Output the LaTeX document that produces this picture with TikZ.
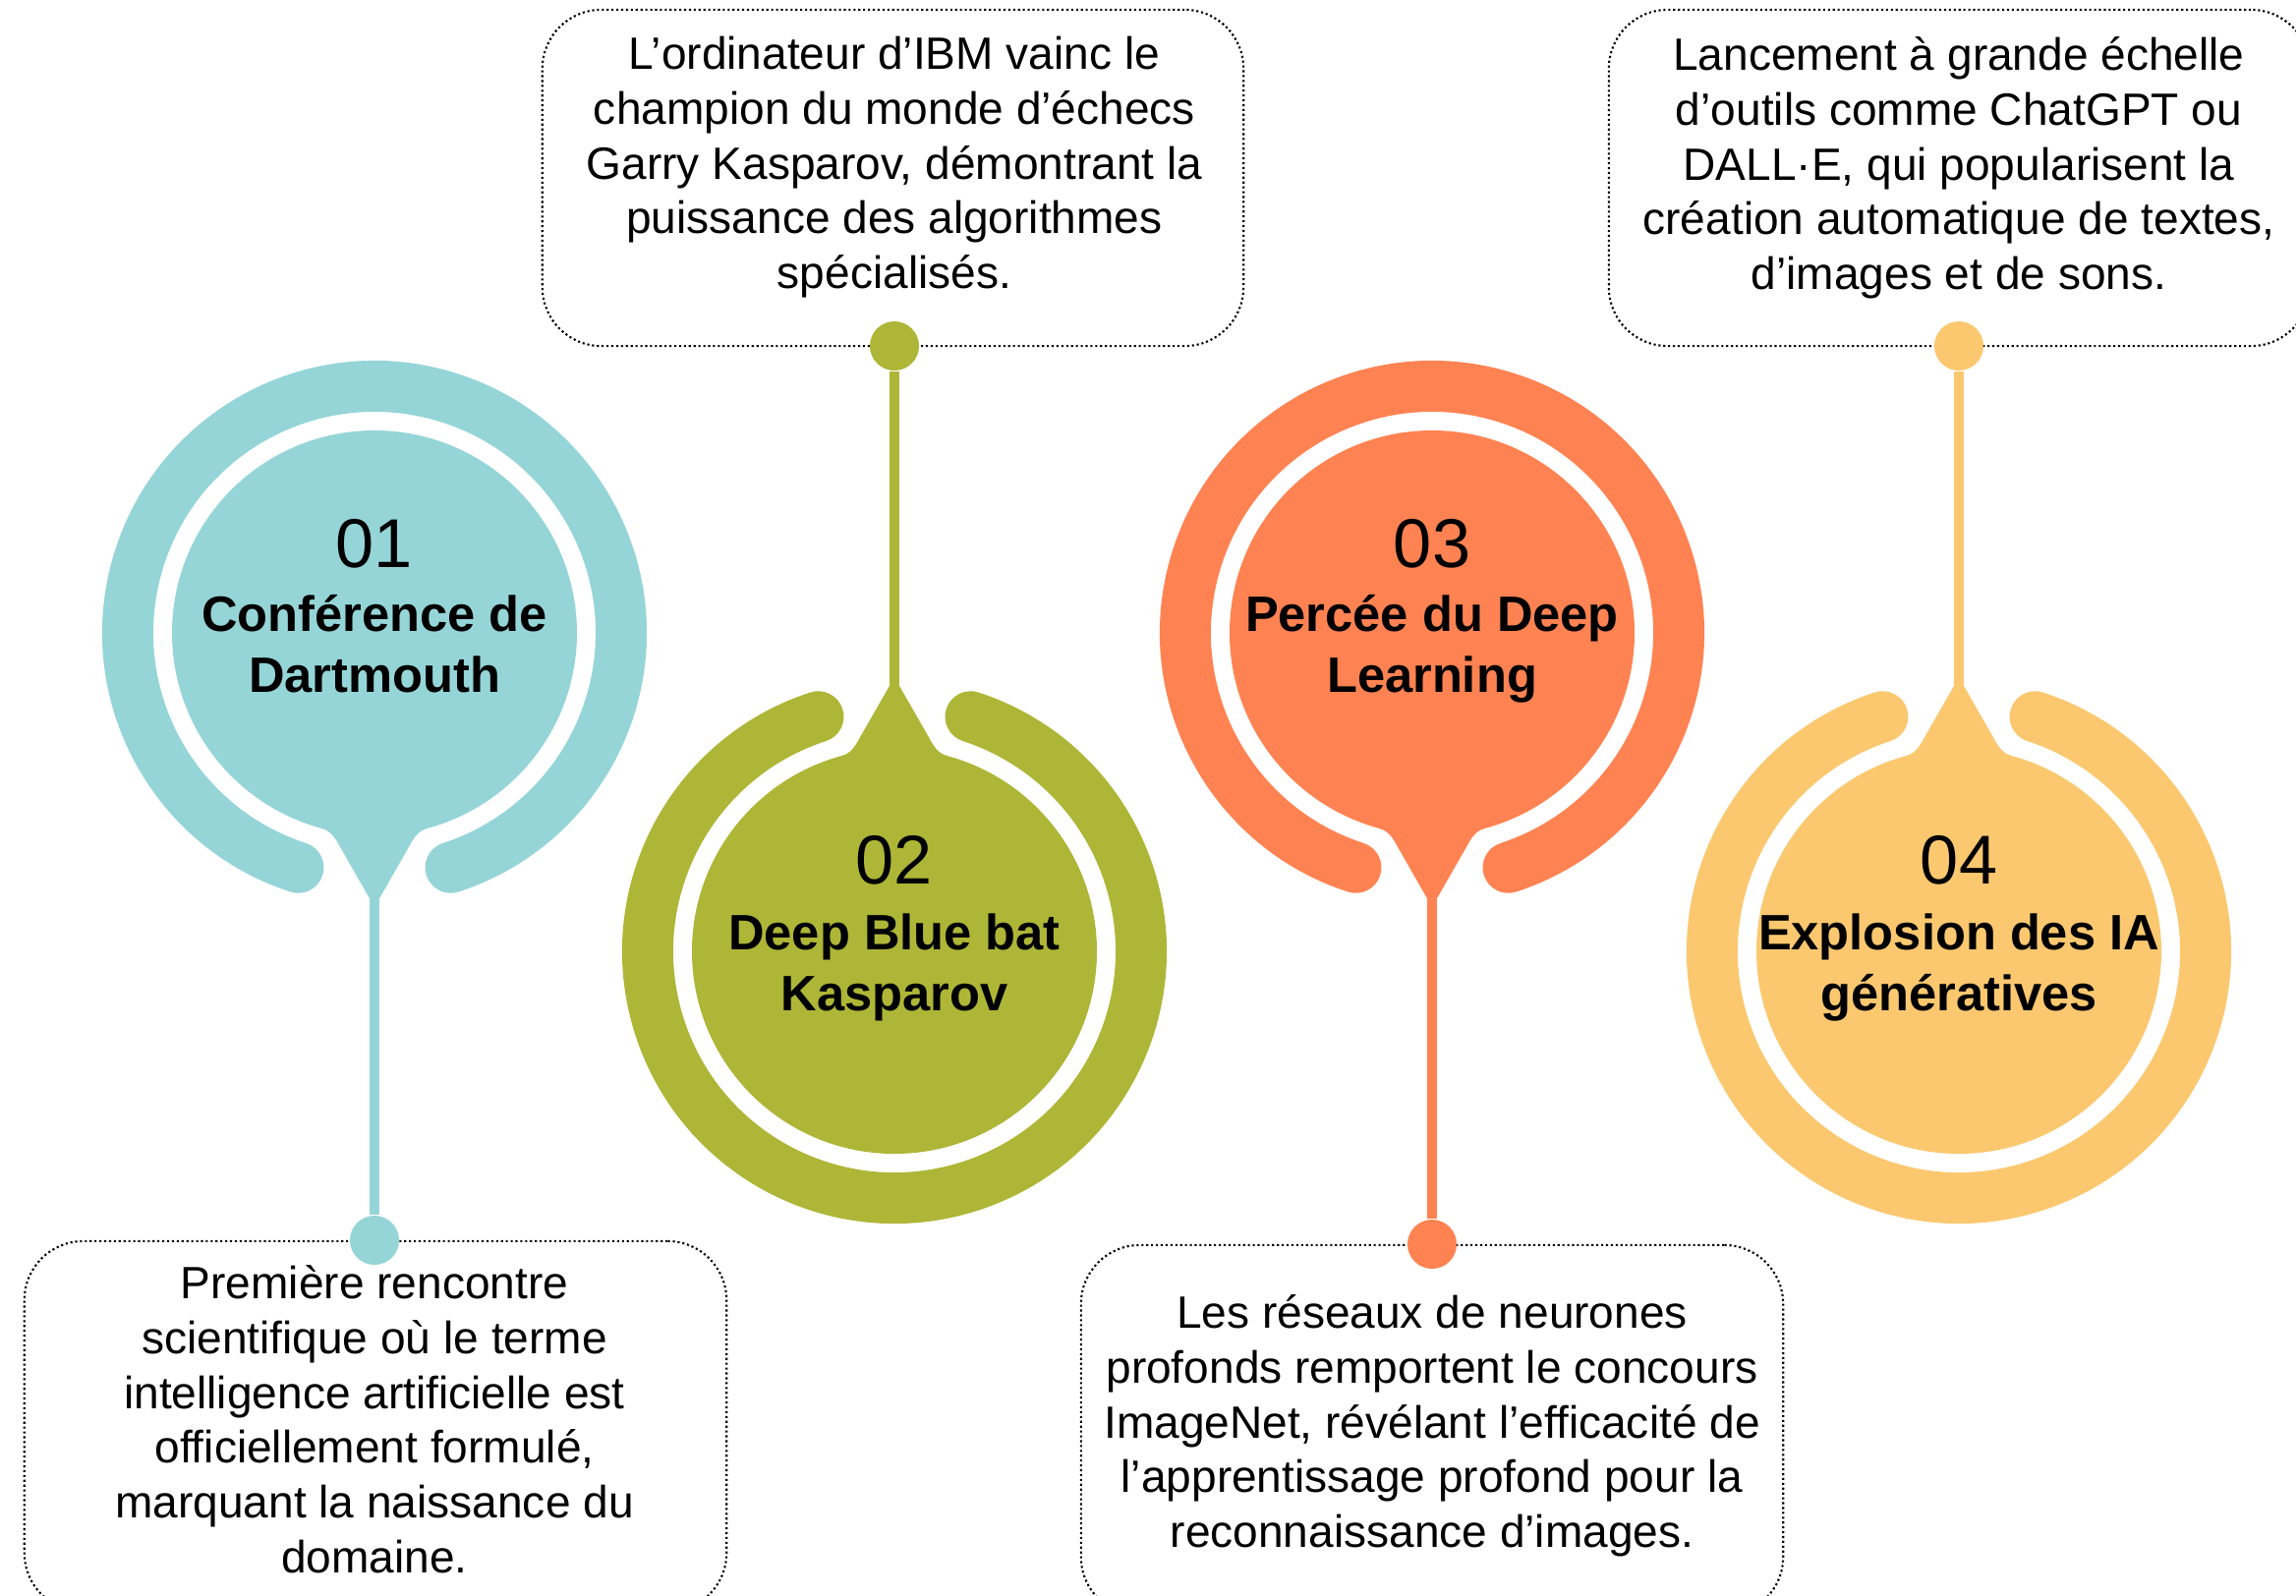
\documentclass[tikz,border=0pt]{standalone}
\usepackage{fontspec}
\setmainfont{Liberation Sans}
\definecolor{cA}{HTML}{95D5D7}
\definecolor{cB}{HTML}{AEB637}
\definecolor{cC}{HTML}{FF8352}
\definecolor{cD}{HTML}{FBC870}
\newcommand\milestone[5]{%
  \begin{scope}[shift={(#1,#2)}, yscale=#3]
    \draw[ring, draw=#4] (108:251) arc[start angle=108, end angle=432, radius=251];
    \fill[#4] (0,0) circle[radius=206];
    \fill[#4] (105:206) .. controls (-43.6,201.6) and (-39,210.3) .. (-34.3,219)
      -- (-4.5,271) -- (4.5,271) -- (34.3,219)
      .. controls (39,210.3) and (43.6,201.6) .. (75:206) -- (0,0) -- cycle;
    \coordinate (tip#5) at (0,271);
  \end{scope}}
\begin{document}
\begin{tikzpicture}[x=0.01cm,y=-0.01cm,
  ring/.style={line width=0.52cm, line cap=round},
  conn/.style={line width=0.095cm},
  dotnode/.style={circle, minimum size=0.5cm, inner sep=0pt},
  infobox/.style={draw=black, line width=0.6pt, dash pattern=on 0.6pt off 0.8pt,
    rounded corners=0.6cm, inner sep=0pt},
  body/.style={font=\fontsize{13.1}{15.85}\selectfont, align=center, inner sep=0pt, anchor=north},
  ttl/.style={font=\bfseries\fontsize{14.4}{17.64}\selectfont, align=center, inner sep=0pt, anchor=north},
  num/.style={font=\fontsize{20}{24}\selectfont, inner sep=0pt, anchor=base}]
\useasboundingbox (0,0) rectangle (2336,1623);
\clip (0,0) rectangle (2336,1623);

% info boxes
\node[infobox, minimum width=7.14cm, minimum height=3.77cm] (box1) at (382,1451.5) {};
\node[infobox, minimum width=7.13cm, minimum height=3.42cm] (box2) at (908.5,181) {};
\node[infobox, minimum width=7.14cm, minimum height=3.77cm] (box3) at (1457,1455.5) {};
\node[infobox, minimum width=7.13cm, minimum height=3.42cm] (box4) at (1993.5,181) {};

% pins
\milestone{381}{644}{1}{cA}{1}
\milestone{910}{968}{-1}{cB}{2}
\milestone{1457}{644}{1}{cC}{3}
\milestone{1993}{968}{-1}{cD}{4}

% dots
\node[dotnode, fill=cA] (dot1) at (381,1262) {};
\node[dotnode, fill=cB] (dot2) at (910,352) {};
\node[dotnode, fill=cC] (dot3) at (1457,1266) {};
\node[dotnode, fill=cD] (dot4) at (1993,352) {};

% connectors
\draw[conn, draw=cA] (tip1) -- (dot1);
\draw[conn, draw=cB] (tip2) -- (dot2);
\draw[conn, draw=cC] (tip3) -- (dot3);
\draw[conn, draw=cD] (tip4) -- (dot4);

% titles
\node[num] (n1) at (381,577) {01};
\node[ttl] (h1) at (381,598.6) {\strut Conférence de\\Dartmouth};
\node[num] (n2) at (910,899) {02};
\node[ttl] (h2) at (910,922.6) {\strut Deep Blue bat\\Kasparov};
\node[num] (n3) at (1457,577) {03};
\node[ttl] (h3) at (1457,598.6) {\strut Percée du Deep\\Learning};
\node[num] (n4) at (1993,899) {04};
\node[ttl] (h4) at (1993,922.6) {\strut Explosion des IA\\génératives};

% texts
\node[body] (t1) at (381,1282) {\strut Première rencontre\\scientifique où le terme\\intelligence artificielle est\\officiellement formulé,\\marquant la naissance du\\domaine.};
\node[body] (t2) at (910,31) {\strut L’ordinateur d’IBM vainc le\\champion du monde d’échecs\\Garry Kasparov, démontrant la\\puissance des algorithmes\\spécialisés.};
\node[body] (t3) at (1457,1312) {\strut Les réseaux de neurones\\profonds remportent le concours\\ImageNet, révélant l’efficacité de\\l’apprentissage profond pour la\\reconnaissance d’images.};
\node[body] (t4) at (1993,32) {\strut Lancement à grande échelle\\d’outils comme ChatGPT ou\\DALL·E, qui popularisent la\\création automatique de textes,\\d’images et de sons.};
\end{tikzpicture}
\end{document}
